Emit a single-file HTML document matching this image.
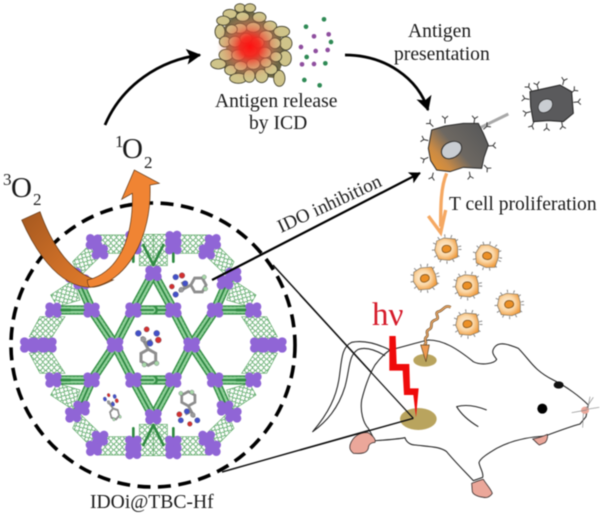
<!DOCTYPE html>
<html><head><meta charset="utf-8">
<style>
html,body{margin:0;padding:0;background:#fff}
svg{display:block;filter:blur(.4px)}
text{font-family:"Liberation Serif",serif;fill:#1a1a1a}
</style></head>
<body>
<svg xmlns="http://www.w3.org/2000/svg" width="600" height="517" viewBox="0 0 600 517">
<defs>
<pattern id="la" width="17" height="17" patternUnits="userSpaceOnUse"><circle cx="8.5" cy="8.5" r="6" fill="none" stroke="#3f9a4e" stroke-width="2.2"/><path d="M0 8.5H2.5M14.5 8.5H17M8.5 0V2.5M8.5 14.5V17" stroke="#3f9a4e" stroke-width="2.2"/></pattern>
<pattern id="lb" width="17" height="17" patternUnits="userSpaceOnUse" patternTransform="rotate(60)"><circle cx="8.5" cy="8.5" r="6" fill="none" stroke="#3f9a4e" stroke-width="2.2"/><path d="M0 8.5H2.5M14.5 8.5H17M8.5 0V2.5M8.5 14.5V17" stroke="#3f9a4e" stroke-width="2.2"/></pattern>
<pattern id="lc" width="17" height="17" patternUnits="userSpaceOnUse" patternTransform="rotate(-60)"><circle cx="8.5" cy="8.5" r="6" fill="none" stroke="#3f9a4e" stroke-width="2.2"/><path d="M0 8.5H2.5M14.5 8.5H17M8.5 0V2.5M8.5 14.5V17" stroke="#3f9a4e" stroke-width="2.2"/></pattern>
<g id="p"><circle cx="-11" cy="-9" r="13"/><circle cx="11" cy="-10" r="13"/><circle cx="-12" cy="10" r="13"/><circle cx="12" cy="10" r="13"/><circle cx="0" cy="0" r="17"/></g>
<g id="Q">
  <g stroke="#5da866" stroke-width="2">
    <polygon points="0,-332 42,-332 42,-238 0,-238" fill="url(#la)"/>
    <polygon points="75,-330 162,-330 162,-275 75,-275" fill="url(#la)"/>
    <polygon points="195,-297 242,-250 222,-205 165,-260" fill="url(#lb)"/>
    <polygon points="240,-195 308,-150 288,-115 220,-135" fill="url(#lc)"/>
    <polygon points="265,-85 340,-85 372,-25 310,-15" fill="url(#la)"/>
  </g>
  <g fill="none" stroke-linecap="round">
    <path d="M115 0L60 -105H0M60 -105L0 -215M115 0L185 -105H300M185 -105L225 -195" stroke="#348f46" stroke-width="28"/>
    <path d="M115 0L60 -105H0M60 -105L0 -215M115 0L185 -105H300M185 -105L225 -195" stroke="#8fd098" stroke-width="20" stroke-dasharray="2.5 9"/>
    <path d="M115 0L60 -105H0M60 -105L0 -215M115 0L185 -105H300M185 -105L225 -195" stroke="#2b8540" stroke-width="5"/>
    <path d="M60 -310V-250M205 -185L235 -205M300 -105H250M0 -240L30 -300" stroke="#2f8a42" stroke-width="8"/>
  </g>
  <g fill="#9065d6">
    <use href="#p" x="115" y="0"/><use href="#p" x="60" y="-105"/><use href="#p" x="185" y="-105"/>
    <use href="#p" x="0" y="-215"/><use href="#p" x="300" y="-105"/>
    <use href="#p" x="315" y="0"/><use href="#p" x="345" y="0"/><use href="#p" x="375" y="0"/>
    <use href="#p" x="215" y="-190"/><use href="#p" x="240" y="-210"/>
    <use href="#p" x="160" y="-280"/><use href="#p" x="178" y="-310"/>
    <use href="#p" x="60" y="-295"/><use href="#p" x="60" y="-320"/>
  </g>
</g>
<g id="mol">
  <g fill="none" stroke="#8d8d8d" stroke-width="9">
    <polygon points="0,8 22,20 22,44 0,56 -22,44 -22,20"/>
    <path d="M0 8L-10 -10L-20 -30M-10 -10L10 -20"/>
  </g>
  <g stroke="#556" stroke-width="1">
    <circle cx="-30" cy="-40" r="9" fill="#4350c8"/><circle cx="-5" cy="-52" r="8" fill="#d23030"/>
    <circle cx="25" cy="-40" r="9" fill="#4350c8"/><circle cx="30" cy="-20" r="9" fill="#d23030"/>
    <circle cx="5" cy="-10" r="9" fill="#4350c8"/><circle cx="-15" cy="-22" r="8" fill="#999"/>
    <circle cx="25" cy="50" r="7" fill="#a8d8a8"/><circle cx="-12" cy="54" r="7" fill="#a8d8a8"/>
  </g>
</g>
<radialGradient id="red" gradientUnits="userSpaceOnUse" cx="180" cy="140" r="100">
  <stop offset="0" stop-color="#ff1010"/><stop offset=".3" stop-color="#f52a20" stop-opacity=".95"/><stop offset=".65" stop-color="#e87050" stop-opacity=".5"/><stop offset="1" stop-color="#e8a070" stop-opacity="0"/>
</radialGradient>
<linearGradient id="dc" x1="0" y1="1" x2="1" y2=".3">
  <stop offset="0" stop-color="#f0982e"/><stop offset=".28" stop-color="#c98a45"/><stop offset=".55" stop-color="#6d6862"/><stop offset="1" stop-color="#5a5a5a"/>
</linearGradient>
<linearGradient id="r1" gradientUnits="userSpaceOnUse" x1="65" y1="150" x2="300" y2="350">
  <stop offset="0" stop-color="#a85a20"/><stop offset=".6" stop-color="#cf7028"/><stop offset="1" stop-color="#e07c2a"/>
</linearGradient>
<radialGradient id="tc" cx=".45" cy=".45" r=".6">
  <stop offset="0" stop-color="#fdf2e2"/><stop offset=".55" stop-color="#fbd7a6"/><stop offset="1" stop-color="#ef9a3c"/>
</radialGradient>
<path id="y" d="M0 0V-14M0 -14L-9 -22M0 -14L9 -22" fill="none" stroke="#333" stroke-width="3"/>
<g id="tcell">
  <circle r="40" fill="none" stroke="#8a8a8a" stroke-width="9" stroke-dasharray="3 17"/>
  <polygon points="-30,-24 -8,-33 26,-30 33,-6 33,24 8,34 -24,31 -36,4" fill="url(#tc)" stroke="#7a7060" stroke-width="2"/>
  <path d="M-13 -4C-8 -14 10 -14 13 -2C14 9 -2 14 -10 9C-14 6 -15 0 -13 -4Z" fill="#ec9026" stroke="#85551c" stroke-width="2.5"/>
</g>
<marker id="ah" viewBox="0 0 14 14" refX="12" refY="7" markerWidth="5.6" markerHeight="5.6" orient="auto" markerUnits="strokeWidth"><path d="M0 0L13 7L0 14L3 7Z" fill="#000"/></marker>
</defs>

<!-- MOF -->
<g transform="translate(0,170) scale(.33333)">
  <g transform="translate(460,525)">
    <use href="#Q"/>
    <use href="#Q" transform="scale(-1,1)"/>
    <use href="#Q" transform="scale(1,-1)"/>
    <use href="#Q" transform="scale(-1,-1)"/>
  </g>
  <use href="#mol" transform="translate(445,530)"/>
  <use href="#mol" transform="translate(565,345) rotate(-90) scale(.95)"/>
  <use href="#mol" transform="translate(565,715) rotate(180) scale(.9)"/>
  <use href="#mol" transform="translate(338,710) rotate(-15) scale(.55,.7)"/>
</g>

<!-- dashed circle -->
<circle cx="153" cy="345" r="142" fill="none" stroke="#000" stroke-width="3.6" stroke-dasharray="13 7.5"/>

<!-- orange ribbon -->
<g transform="translate(0,170) scale(.33333)" stroke="#5c3414" stroke-width="2">
  <path d="M65 150L120 125C150 210 200 295 275 325L340 330C300 350 285 352 270 352C170 350 100 230 65 150Z" fill="url(#r1)"/>
  <path d="M270 352C380 340 457 200 450 45L478 40L403 0L365 88L397 70C400 180 370 290 280 325L262 330C262 340 265 348 270 352Z" fill="#f08433"/>
</g>

<!-- lines -->
<path d="M273 265L413 418L222 472" fill="none" stroke="#111" stroke-width="1.5"/>
<path d="M212 280L420 173" fill="none" stroke="#000" stroke-width="2.2" marker-end="url(#ah)"/>
<path d="M105 125C122 85 160 60 200 55" fill="none" stroke="#000" stroke-width="2.8" marker-end="url(#ah)"/>
<path d="M345 55C385 55 418 78 428 110" fill="none" stroke="#000" stroke-width="2.8" marker-end="url(#ah)"/>

<!-- tumor -->
<g transform="translate(190,0) scale(.33333)">
  <polygon points="100,85 145,30 190,35 270,95 285,170 260,235 180,225 125,230 90,190 110,140" fill="#6d6746"/>
  <g fill="#cfc48a" stroke="#3f3d2a" stroke-width="2.5">
    <ellipse cx="150" cy="24" rx="16" ry="13"/><ellipse cx="180" cy="24" rx="17" ry="13"/>
    <ellipse cx="120" cy="42" rx="21" ry="14"/><ellipse cx="158" cy="50" rx="20" ry="14"/>
    <ellipse cx="208" cy="52" rx="20" ry="15"/><ellipse cx="100" cy="62" rx="20" ry="14"/>
    <ellipse cx="240" cy="78" rx="20" ry="15"/><ellipse cx="275" cy="95" rx="24" ry="16"/>
    <ellipse cx="90" cy="95" rx="15" ry="21"/><ellipse cx="105" cy="125" rx="17" ry="16"/>
    <ellipse cx="288" cy="130" rx="18" ry="20"/><ellipse cx="285" cy="175" rx="19" ry="23"/>
    <ellipse cx="258" cy="170" rx="17" ry="15"/><ellipse cx="108" cy="165" rx="21" ry="17"/>
    <ellipse cx="85" cy="192" rx="23" ry="15"/><ellipse cx="122" cy="210" rx="18" ry="15"/>
    <ellipse cx="145" cy="235" rx="26" ry="15"/><ellipse cx="178" cy="228" rx="17" ry="19"/>
    <ellipse cx="215" cy="228" rx="19" ry="20"/><ellipse cx="268" cy="235" rx="17" ry="24"/>
    <ellipse cx="243" cy="208" rx="19" ry="16"/><ellipse cx="190" cy="82" rx="21" ry="15"/>
    <ellipse cx="150" cy="85" rx="20" ry="15"/><ellipse cx="228" cy="108" rx="20" ry="16"/>
    <ellipse cx="255" cy="130" rx="17" ry="16"/><ellipse cx="125" cy="88" rx="17" ry="14"/>
    <ellipse cx="135" cy="125" rx="19" ry="16"/><ellipse cx="168" cy="115" rx="18" ry="15"/>
    <ellipse cx="203" cy="128" rx="19" ry="16"/><ellipse cx="180" cy="152" rx="21" ry="16"/>
    <ellipse cx="145" cy="165" rx="20" ry="16"/><ellipse cx="225" cy="158" rx="19" ry="16"/>
    <ellipse cx="190" cy="192" rx="20" ry="16"/><ellipse cx="152" cy="198" rx="19" ry="14"/>
    <ellipse cx="228" cy="188" rx="17" ry="14"/>
  </g>
  <circle cx="180" cy="140" r="100" fill="url(#red)"/>
  <g fill="#2f8a55">
    <circle cx="402" cy="58" r="7"/><circle cx="348" cy="80" r="7"/><circle cx="423" cy="126" r="7"/><circle cx="350" cy="171" r="7"/><circle cx="406" cy="190" r="7"/><circle cx="343" cy="240" r="7"/><circle cx="389" cy="256" r="7"/>
  </g>
  <g fill="#8f4f9f">
    <circle cx="372" cy="109" r="7"/><circle cx="416" cy="103" r="7"/><circle cx="333" cy="141" r="7"/><circle cx="377" cy="153" r="7"/><circle cx="413" cy="150" r="7"/><circle cx="336" cy="193" r="7"/><circle cx="372" cy="192" r="7"/>
  </g>
</g>

<!-- immune cells -->
<g transform="translate(400,70) scale(.33333)">
  <path d="M243 172L325 132" stroke="#a8a8a8" stroke-width="9" fill="none"/>
  <use href="#y" transform="translate(135,160)"/><use href="#y" transform="translate(222,160) rotate(8)"/>
  <use href="#y" transform="translate(250,178) rotate(50)"/><use href="#y" transform="translate(265,228) rotate(85)"/>
  <use href="#y" transform="translate(252,285) rotate(135)"/><use href="#y" transform="translate(208,305) rotate(170)"/>
  <use href="#y" transform="translate(100,308) rotate(195)"/><use href="#y" transform="translate(85,262) rotate(245)"/>
  <use href="#y" transform="translate(85,212) rotate(285)"/><use href="#y" transform="translate(100,170) rotate(315)"/>
  <polygon points="95,180 135,168 190,160 235,160 250,190 265,225 252,262 245,295 190,292 150,305 110,300 92,272 85,235" fill="url(#dc)" stroke="#2a2a2a" stroke-width="3"/>
  <path d="M125 240C130 218 165 205 182 222C192 240 175 262 150 266C132 268 122 255 125 240Z" fill="#c9cdd2" stroke="#2f2f2f" stroke-width="3"/>
  <use href="#y" transform="translate(415,58) rotate(-15)"/><use href="#y" transform="translate(488,45) rotate(15)"/>
  <use href="#y" transform="translate(512,70) rotate(50)"/><use href="#y" transform="translate(520,97) rotate(85)"/>
  <use href="#y" transform="translate(485,155) rotate(170)"/><use href="#y" transform="translate(440,160) rotate(180)"/>
  <use href="#y" transform="translate(402,155) rotate(205)"/><use href="#y" transform="translate(392,125) rotate(255)"/>
  <use href="#y" transform="translate(388,88) rotate(280)"/><use href="#y" transform="translate(395,62) rotate(320)"/>
  <polygon points="390,65 435,55 480,45 515,65 520,130 490,155 445,152 400,155 392,110" fill="#5a5a5c" stroke="#222" stroke-width="3"/>
  <path d="M415 108C418 92 440 80 455 92C463 108 452 125 432 128C420 129 413 120 415 108Z" fill="#c9cdd2" stroke="#2f2f2f" stroke-width="2"/>
  <path d="M140 310C122 350 122 410 122 470" fill="none" stroke="#f5a862" stroke-width="10"/>
  <path d="M85 438L122 488L137 420" fill="none" stroke="#f5a862" stroke-width="10"/>
  <use href="#tcell" transform="translate(140,537)"/>
  <use href="#tcell" transform="translate(262,558) rotate(20)"/>
  <use href="#tcell" transform="translate(75,625) rotate(-10)"/>
  <use href="#tcell" transform="translate(202,647)"/>
  <use href="#tcell" transform="translate(328,703)"/>
  <use href="#tcell" transform="translate(203,762)"/>
</g>

<!-- mouse -->
<g transform="translate(300,280) scale(.33333)" fill="none" stroke="#222" stroke-width="3.2" stroke-linejoin="round">
  <path d="M270 210C330 195 360 185 385 180C430 180 470 205 520 245C545 258 585 250 590 238C580 225 572 215 585 200C600 183 630 195 655 205C690 240 700 270 760 300C800 320 840 350 865 375L858 410L840 432C810 440 770 455 735 468C700 470 640 478 590 505C565 520 540 535 537 548C540 565 552 580 548 592L520 602C490 570 460 540 440 515C420 500 390 500 345 495C330 495 318 485 315 473C290 478 255 480 225 482L205 445C190 430 180 395 185 360C195 320 210 280 225 255C240 235 255 220 270 210Z" fill="#fff"/>
  <path d="M270 210C230 190 190 180 155 187C125 200 125 240 118 290C110 350 85 400 38 455C80 425 115 385 135 320C150 265 145 225 175 208C200 200 230 212 255 227"/>
  <path d="M560 390C530 378 500 372 470 380C485 405 510 425 535 440"/>
  <g fill="#eba79a" stroke="#3a3030" stroke-width="2.5">
    <path d="M150 495C158 470 180 455 205 458C222 470 228 480 225 487C212 488 205 495 205 505C200 520 185 522 160 520C150 512 148 505 150 495Z"/>
    <path d="M515 610C528 605 540 600 550 598C560 615 572 625 577 640C570 650 562 655 550 652C535 650 520 645 517 635Z"/>
    <path d="M698 477C712 474 728 470 742 463C745 475 738 485 735 488L718 495C710 490 705 482 698 477Z"/>
  </g>
  <circle cx="727" cy="386" r="15" fill="#000" stroke="none"/>
  <ellipse cx="776" cy="315" rx="15" ry="11" fill="#111" stroke="none"/>
  <ellipse cx="855" cy="391" rx="12" ry="11" fill="#eba79a" stroke="none"/>
  <g stroke="#888" stroke-width="2">
    <path d="M860 390L815 398M860 388L898 382M858 385L880 352M864 382L870 350M850 400L848 443"/>
  </g>
  <ellipse cx="375" cy="241" rx="35" ry="19" fill="#b9a45e" stroke="none"/>
  <ellipse cx="355" cy="417" rx="55" ry="33" fill="#b9a45e" stroke="none"/>
  <path d="M268 168L287 168L290 252L328 252L330 325L356 325L348 412L340 345L312 345L308 272L268 272Z" fill="#ef0b0b" stroke="none"/>
  <path d="M340 415L0 45" stroke="#111" stroke-width="3.6"/>
  <path d="M0 510L340 415" stroke="#111" stroke-width="4.4"/>
  <path d="M452 82C435 72 430 92 415 95C400 100 425 115 405 120C385 128 402 140 388 148C372 155 390 165 378 172C370 180 385 188 372 195" stroke="#6b4a22" stroke-width="8"/>
  <path d="M452 82C435 72 430 92 415 95C400 100 425 115 405 120C385 128 402 140 388 148C372 155 390 165 378 172C370 180 385 188 372 195" stroke="#f0ab6a" stroke-width="4"/>
  <path d="M362 195L388 195L378 245Z" fill="#ee9a50" stroke="#5a4020" stroke-width="2"/>
</g>

<!-- text -->
<text x="3" y="185" font-size="17">3</text>
<text x="11" y="197" font-size="29">O</text>
<text x="33" y="205" font-size="17">2</text>
<text x="115" y="147" font-size="17">1</text>
<text x="122" y="158" font-size="29">O</text>
<text x="144" y="168" font-size="17">2</text>
<text x="215" y="107" font-size="19.6">Antigen release</text>
<text x="249" y="129" font-size="19.6">by ICD</text>
<text x="408" y="37" font-size="19.6">Antigen</text>
<text x="394" y="60" font-size="19.6">presentation</text>
<text x="449" y="210" font-size="19.6">T cell proliferation</text>
<text x="90" y="508" font-size="19.6">IDOi@TBC-Hf</text>
<text transform="translate(281,233) rotate(-25)" font-size="19">IDO inhibition</text>
<text x="372" y="325" font-size="33" style="fill:#d51a2a">hν</text>
</svg>
</body></html>
